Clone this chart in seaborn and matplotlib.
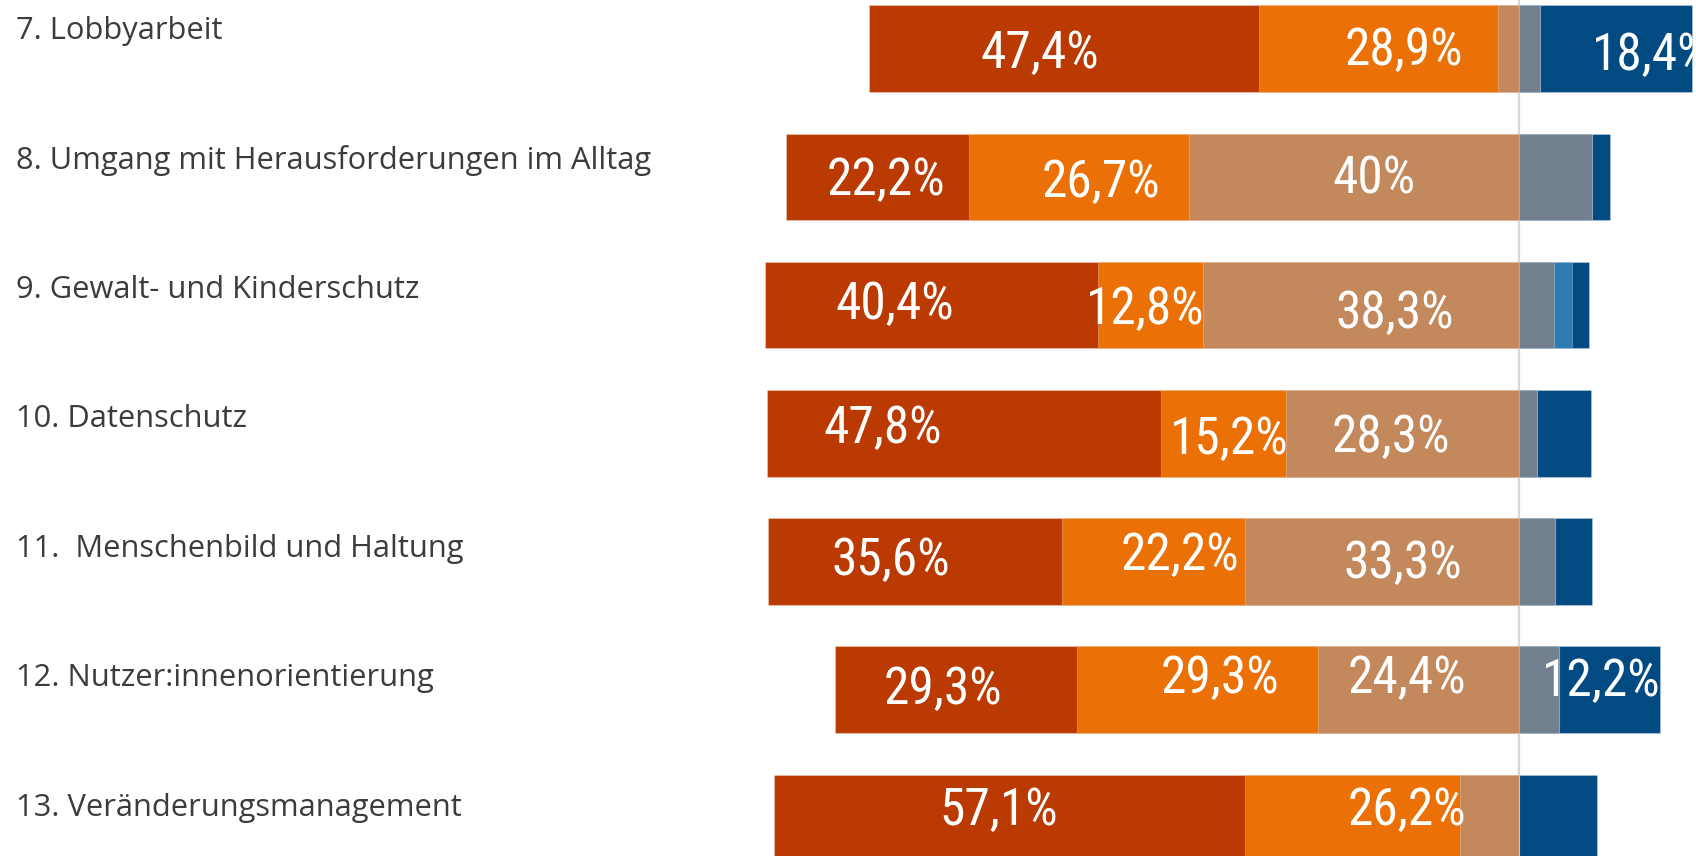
import matplotlib
matplotlib.use("Agg")
import matplotlib.pyplot as plt
import matplotlib.transforms as mtransforms
from matplotlib import font_manager
import numpy as np
import pandas as pd
import seaborn as sns

# Topics (top to bottom)
topics = [
    "7. Lobbyarbeit",
    "8. Umgang mit Herausforderungen im Alltag",
    "9. Gewalt- und Kinderschutz",
    "10. Datenschutz",
    "11.  Menschenbild und Haltung",
    "12. Nutzer:innenorientierung",
    "13. Veränderungsmanagement",
]

# Answer levels: the first three stack to the left of zero, the rest to the right
levels = ["Stufe 1", "Stufe 2", "Stufe 3", "Stufe 4", "Stufe 5", "Stufe 6"]
left_levels = ["Stufe 1", "Stufe 2", "Stufe 3"]
right_levels = ["Stufe 4", "Stufe 5", "Stufe 6"]

# Shares in percent per level
stufe_1 = [47.4, 22.2, 40.4, 47.8, 35.6, 29.3, 57.1]
stufe_2 = [28.9, 26.7, 12.8, 15.2, 22.2, 29.3, 26.2]
stufe_3 = [2.6, 40.0, 38.3, 28.3, 33.3, 24.4, 7.1]
stufe_4 = [2.6, 8.9, 4.3, 2.2, 4.4, 4.9, 0.0]
stufe_5 = [0.0, 0.0, 2.1, 0.0, 0.0, 0.0, 0.0]
stufe_6 = [18.4, 2.2, 2.1, 6.5, 4.4, 12.2, 9.5]

level_colors = {
    "Stufe 1": "#BA3A02",
    "Stufe 2": "#EB7106",
    "Stufe 3": "#C3885C",
    "Stufe 4": "#717F8F",
    "Stufe 5": "#2E7BB4",
    "Stufe 6": "#024A82",
}

# Label nudges (x in percent points, y in rows)
label_nudge = {
    (0, "Stufe 1"): (-3.0, 0.04), (0, "Stufe 2"): (3.1, 0.02), (0, "Stufe 6"): (4.2, 0.06),
    (1, "Stufe 1"): (1.0, 0.03), (1, "Stufe 2"): (2.6, 0.05), (1, "Stufe 3"): (2.4, 0.02),
    (2, "Stufe 1"): (-4.5, 0.0), (2, "Stufe 2"): (-0.7, 0.04), (2, "Stufe 3"): (4.1, 0.07),
    (3, "Stufe 1"): (-9.8, -0.03), (3, "Stufe 2"): (0.7, 0.05), (3, "Stufe 3"): (-1.4, 0.04),
    (4, "Stufe 1"): (-2.9, 0.0), (4, "Stufe 2"): (3.3, -0.04), (4, "Stufe 3"): (2.6, 0.02),
    (5, "Stufe 1"): (-1.6, 0.0), (5, "Stufe 2"): (2.8, -0.08), (5, "Stufe 3"): (-1.4, -0.08),
    (5, "Stufe 6"): (-1.0, -0.06),
    (6, "Stufe 1"): (-1.3, -0.05), (6, "Stufe 2"): (6.6, -0.05),
}

df = pd.DataFrame({"topic": topics, "Stufe 1": stufe_1, "Stufe 2": stufe_2,
                   "Stufe 3": stufe_3, "Stufe 4": stufe_4, "Stufe 5": stufe_5,
                   "Stufe 6": stufe_6})

# Segment edges: left side grows outward from zero (Stufe 3 nearest the centre)
edges = {}
run = np.zeros(len(topics))
for lv in reversed(left_levels):
    start = run.copy()
    run = run - df[lv].to_numpy()
    edges[lv] = (start, run.copy())
run = np.zeros(len(topics))
for lv in right_levels:
    start = run.copy()
    run = run + df[lv].to_numpy()
    edges[lv] = (start, run.copy())

sns.set_theme(style="white")

names = {f.name for f in font_manager.fontManager.ttflist}
condensed_names = {f.name for f in font_manager.fontManager.ttflist
                   if str(f.stretch).lower() in ("condensed", "semi-condensed", "extra-condensed")
                   or (isinstance(f.stretch, int) and f.stretch < 500)}

value_family = "DejaVu Sans"
value_stretch = "condensed"
for cand in ["Liberation Sans Narrow", "Roboto Condensed", "Open Sans Condensed",
             "Noto Sans Condensed"]:
    if cand in names:
        value_family, value_stretch = cand, "normal"
        break
else:
    for cand in ["Roboto", "Noto Sans", "Open Sans", "DejaVu Sans"]:
        if cand in condensed_names:
            value_family = cand
            break

label_family = next((c for c in ["Open Sans", "Noto Sans", "DejaVu Sans"] if c in names),
                    "DejaVu Sans")

fig = plt.figure(figsize=(16.96, 8.56), dpi=100)
ax = fig.add_axes([0, 0, 1, 1])

bar_h = 0.675
# Draw outer cumulative ends first so the inner segments overlay them
for lv in left_levels:
    sns.barplot(x=edges[lv][1], y=topics, orient="h", color=level_colors[lv], saturation=1,
                width=bar_h, ax=ax, edgecolor=(1, 1, 1, 0.25), linewidth=0.8, zorder=2)
for lv in reversed(right_levels):
    sns.barplot(x=edges[lv][1], y=topics, orient="h", color=level_colors[lv], saturation=1,
                width=bar_h, ax=ax, edgecolor=(1, 1, 1, 0.25), linewidth=0.8, zorder=2)

# Centre reference line
ax.axvline(0, color="#D6D6D6", lw=1.6, zorder=1)

# Axis scaling: zero sits at 1519 px, 8.24 px per percent point
ppp = 8.24
zero_px = 1519
ax.set_xlim(-zero_px / ppp, (1696 - zero_px) / ppp)
pitch = 128.2
top_c = 48.7
ax.set_ylim((856 - top_c) / pitch, -top_c / pitch)
ax.axis("off")

# Percentage labels inside the larger segments
for i in range(len(topics)):
    for lv in levels:
        v = df[lv].iloc[i]
        if v < 10:
            continue
        a, b = edges[lv]
        xc = (a[i] + b[i]) / 2
        dx, dy = label_nudge.get((i, lv), (0.0, 0.0))
        txt = (f"{v:.1f}".replace(".", ",") if v != round(v) else f"{v:.0f}") + "%"
        ax.text(xc + dx, i + dy, txt, ha="center", va="center", color="white",
                fontsize=37, family=value_family, fontstretch=value_stretch,
                fontweight="normal", zorder=5, clip_on=False)

# Topic names at the left edge, sitting slightly above each bar
trans = mtransforms.blended_transform_factory(fig.transFigure, ax.transData)
for i, t in enumerate(topics):
    ax.text(16 / 1696, i - 0.14 + 0.01 * i, t, transform=trans, ha="left", va="center",
            color="#3C3C3C", fontsize=22.2, family=label_family)

fig.savefig("out.png", dpi=100, facecolor="white")
